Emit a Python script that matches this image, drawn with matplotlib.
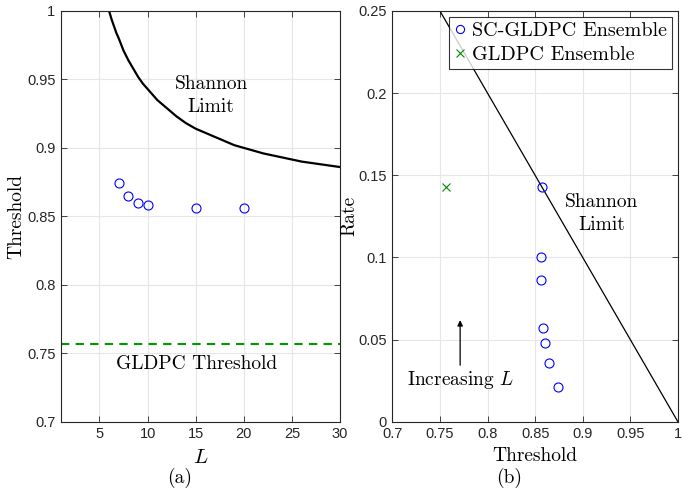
import numpy as np
import matplotlib
matplotlib.use("Agg")
import matplotlib.pyplot as plt
from matplotlib.ticker import FuncFormatter

plt.rcParams['mathtext.fontset'] = 'cm'
plt.rcParams['font.family'] = ['Liberation Sans', 'DejaVu Sans']

# -------- DATA --------
# panel (a): threshold vs coupling length L
L_vals = [7, 8, 9, 10, 15, 20]
sc_thresh = [0.874, 0.865, 0.860, 0.858, 0.856, 0.856]

# Shannon limit curve
shannon_L = [6, 6.25, 6.5, 6.75, 7, 7.5, 8, 8.5, 9, 9.5, 10, 11, 12, 13, 14,
             15, 16, 17, 18, 19, 20, 22, 24, 26, 28, 30]
shannon_thr = [1.0, 0.994, 0.989, 0.984, 0.980, 0.971, 0.964, 0.958, 0.952,
               0.947, 0.943, 0.935, 0.929, 0.923, 0.918, 0.914, 0.911, 0.908,
               0.905, 0.902, 0.900, 0.896, 0.893, 0.890, 0.888, 0.886]

gldpc_thresh = 0.757

# panel (b): rate vs threshold
sc_rate_thr = [0.857, 0.856, 0.856, 0.858, 0.860, 0.865, 0.874]
sc_rate = [0.143, 0.100, 0.086, 0.057, 0.048, 0.036, 0.021]
gldpc_rate_thr = [0.756]
gldpc_rate = [0.143]
shannon_line_thr = [0.75, 1.0]
shannon_line_rate = [0.25, 0.0]

TXT = '#262626'
GRID = '#e6e6e6'
SERIF = 'cmr10'

fig = plt.figure(figsize=(6.83, 4.93), dpi=100)
ax1 = fig.add_axes([0.0893, 0.1446, 0.4087, 0.8331])
ax2 = fig.add_axes([0.5745, 0.1446, 0.4180, 0.8331])

def style(ax):
    ax.grid(True, color=GRID, linewidth=0.8)
    ax.set_axisbelow(True)
    ax.tick_params(direction='in', length=4, width=0.6, colors=TXT,
                   top=True, right=True, labelsize=10.5, pad=4)
    for s in ax.spines.values():
        s.set_color(TXT)
        s.set_linewidth(0.8)

fmt = FuncFormatter(lambda v, p: '%g' % round(v, 3))

# -------- (a) --------
ax1.plot(shannon_L, shannon_thr, color='k', linewidth=1.6)
ax1.axhline(gldpc_thresh, color=(0, 0.6, 0), linestyle=(0, (4, 3)), linewidth=1.5)
ax1.plot(L_vals, sc_thresh, 'o', mfc='none', mec='b', ms=6.5, mew=0.8)
ax1.set_xlim(1, 30)
ax1.set_ylim(0.7, 1)
ax1.set_xticks([5, 10, 15, 20, 25, 30])
ax1.set_yticks([0.7, 0.75, 0.8, 0.85, 0.9, 0.95, 1])
ax1.yaxis.set_major_formatter(fmt)
style(ax1)
ax1.set_xlabel(r'$L$', fontsize=15, labelpad=5)
ax1.set_ylabel('Threshold', fontsize=14, family=SERIF, labelpad=1)
ax1.text(16.6, 0.9385, 'Shannon\nLimit', fontsize=14, family=SERIF,
         ha='center', va='center', linespacing=1.35)
ax1.text(15.1, 0.742, 'GLDPC Threshold', fontsize=14, family=SERIF,
         ha='center', va='center')

# -------- (b) --------
ax2.plot(shannon_line_thr, shannon_line_rate, color='k', linewidth=0.9)
ax2.plot(sc_rate_thr, sc_rate, 'o', mfc='none', mec='b', ms=6.5, mew=0.8,
         label='SC-GLDPC Ensemble')
ax2.plot(gldpc_rate_thr, gldpc_rate, 'x', color=(0, 0.55, 0), ms=6, mew=0.8,
         label='GLDPC Ensemble')
ax2.set_xlim(0.7, 1)
ax2.set_ylim(0, 0.25)
ax2.set_xticks([0.7, 0.75, 0.8, 0.85, 0.9, 0.95, 1])
ax2.set_yticks([0, 0.05, 0.1, 0.15, 0.2, 0.25])
ax2.xaxis.set_major_formatter(fmt)
ax2.yaxis.set_major_formatter(fmt)
style(ax2)
ax2.set_xlabel('Threshold', fontsize=14, family=SERIF, labelpad=4)
ax2.set_ylabel('Rate', fontsize=14, family=SERIF, labelpad=0)
ax2.text(0.92, 0.1267, 'Shannon\nLimit', fontsize=14, family=SERIF,
         ha='center', va='center', linespacing=1.35)
ax2.text(0.772, 0.0255, r'Increasing $L$', fontsize=14, family=SERIF,
         ha='center', va='center')
ax2.annotate('', xy=(0.7712, 0.0635), xytext=(0.7712, 0.0327),
             arrowprops=dict(arrowstyle='-|>', color='k', lw=0.9,
                             mutation_scale=8))
leg = ax2.legend(loc='upper right', prop={'family': SERIF, 'size': 14.5},
                 frameon=True, fancybox=False, edgecolor='k',
                 handlelength=0.6, handletextpad=0.3, borderpad=0.25,
                 labelspacing=0.3, borderaxespad=0.3, markerscale=0.9)
leg.get_frame().set_linewidth(0.8)

fig.text(0.2635, 0.030, '(a)', fontsize=14, family=SERIF, ha='center', va='center')
fig.text(0.7457, 0.030, '(b)', fontsize=14, family=SERIF, ha='center', va='center')

fig.savefig('out.png', dpi=100)
